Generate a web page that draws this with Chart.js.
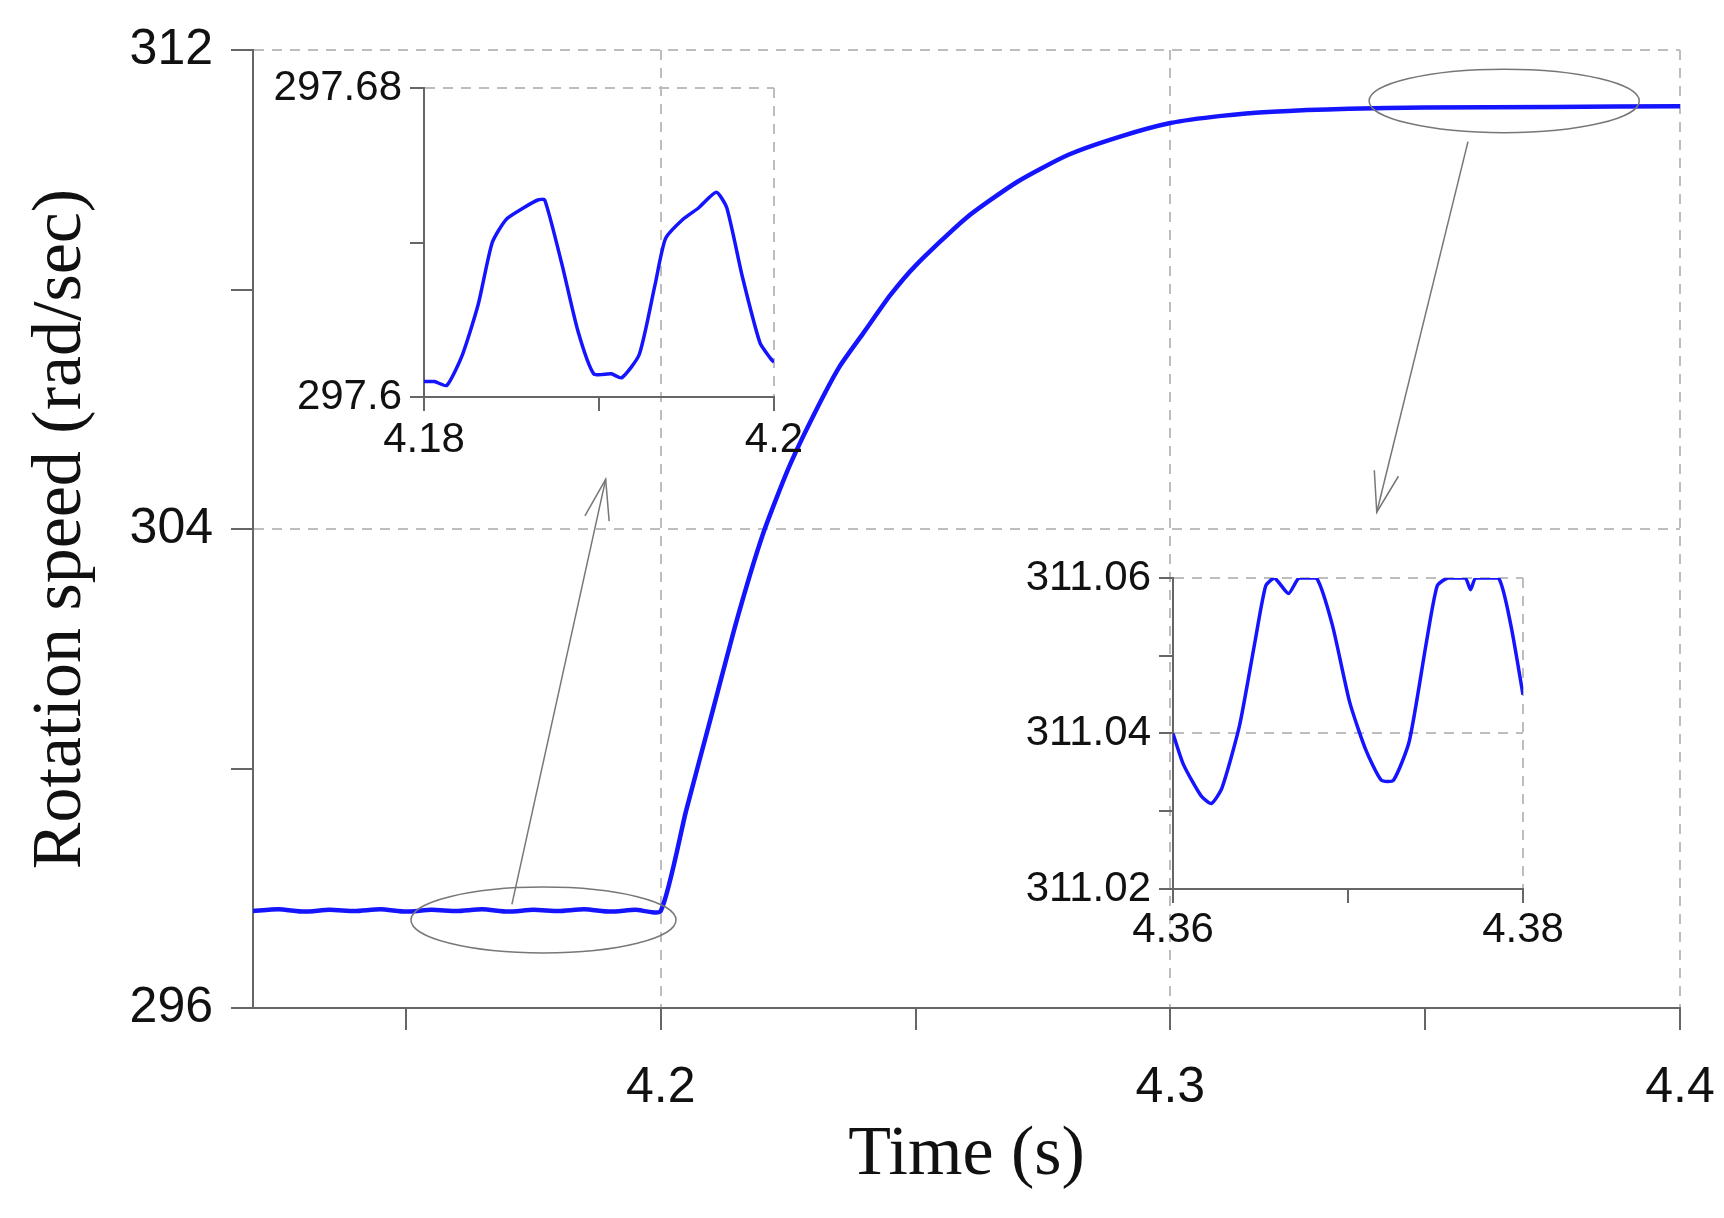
<!DOCTYPE html>
<html>
<head>
<meta charset="utf-8">
<script src="https://cdn.jsdelivr.net/npm/chart.js@4.4.1/dist/chart.umd.min.js"></script>
<style>
  body { margin: 0; background: #fff; }
  #wrap { position: relative; width: 1724px; height: 1218px; }
  canvas { position: absolute; }
</style>
</head>
<body>
<div id="wrap">
  <canvas id="main" style="left:0;top:0"></canvas>
  <canvas id="ins1" style="left:260px;top:70px"></canvas>
  <canvas id="ins2" style="left:1000px;top:555px"></canvas>
</div>
<script>
// main curve
var mainTime = [4.12, 4.125, 4.13, 4.135, 4.14, 4.145, 4.15, 4.155, 4.16, 4.165, 4.17, 4.175, 4.18, 4.185, 4.19, 4.195, 4.2,
  4.205, 4.21, 4.215, 4.22, 4.225, 4.23, 4.235, 4.24, 4.245, 4.25, 4.26, 4.27, 4.28, 4.29, 4.3, 4.31, 4.32, 4.335, 4.35, 4.375, 4.4];
var mainSpeed = [297.62, 297.65, 297.61, 297.64, 297.62, 297.65, 297.61, 297.64, 297.62, 297.65, 297.61, 297.64, 297.62, 297.65, 297.61, 297.64, 297.62,
  299.3, 300.9, 302.5, 303.9, 305.0, 305.9, 306.7, 307.3, 307.9, 308.4, 309.2, 309.8, 310.25, 310.55, 310.78, 310.9, 310.97, 311.02, 311.04, 311.05, 311.06];
var mainXTicks = [4.15, 4.2, 4.25, 4.3, 4.35, 4.4];
var mainXLabels = ['', '4.2', '', '4.3', '', '4.4'];
var mainYTicks = [296, 300, 304, 308, 312];
var mainYLabels = ['296', '', '304', '', '312'];

// inset 1 (left zoom)
var ins1Time = [4.18, 4.1806, 4.1813, 4.1822, 4.1831, 4.1839, 4.1847, 4.1857, 4.1865, 4.1869, 4.1879, 4.1888, 4.1897, 4.1907, 4.1913,
  4.1923, 4.1932, 4.1938, 4.1948, 4.1957, 4.1967, 4.1973, 4.1982, 4.1992, 4.1998, 4.2];
var ins1Speed = [297.604, 297.604, 297.603, 297.611, 297.624, 297.640, 297.646, 297.649, 297.651, 297.651, 297.634, 297.617, 297.606, 297.606, 297.605,
  297.611, 297.629, 297.641, 297.646, 297.649, 297.653, 297.649, 297.631, 297.614, 297.610, 297.609];
var ins1XTicks = [4.18, 4.19, 4.2];
var ins1XLabels = ['4.18', '', '4.2'];
var ins1YTicks = [297.6, 297.64, 297.68];
var ins1YLabels = ['297.6', '', '297.68'];

// inset 2 (right zoom)
var ins2Time = [4.36, 4.3606, 4.3616, 4.3622, 4.3628, 4.3638, 4.3647, 4.3653, 4.3658, 4.3666, 4.3672, 4.3682, 4.3691, 4.3701, 4.371,
  4.3719, 4.3726, 4.3735, 4.3745, 4.3751, 4.3757, 4.3767, 4.377, 4.3773, 4.3786, 4.3793, 4.38];
var ins2Speed = [311.04, 311.036, 311.032, 311.031, 311.033, 311.041, 311.052, 311.059, 311.06, 311.058, 311.06, 311.06, 311.054, 311.044, 311.038,
  311.034, 311.034, 311.039, 311.052, 311.059, 311.06, 311.06, 311.0585, 311.06, 311.06, 311.054, 311.045];
var ins2XTicks = [4.36, 4.37, 4.38];
var ins2XLabels = ['4.36', '', '4.38'];
var ins2YTicks = [311.02, 311.03, 311.04, 311.05, 311.06];
var ins2YLabels = ['311.02', '', '311.04', '', '311.06'];

var AXIS = '#666';
var GRID = '#bdbdbd';
var BLUE = '#1414ff';

function pts(xs, ys) {
  return xs.map(function (x, i) { return { x: x, y: ys[i] }; });
}

function axis(cfg) {
  var isX = cfg.pos === 'bottom';
  return {
    type: 'linear',
    position: cfg.pos,
    min: cfg.min,
    max: cfg.max,
    afterBuildTicks: function (s) { s.ticks = cfg.ticks.map(function (v) { return { value: v }; }); },
    afterFit: function (s) {
      // fixed axis box, no overflow padding from labels
      if (isX) { s.height = cfg.size; s.paddingLeft = 0; s.paddingRight = 0; }
      else { s.width = cfg.size; s.paddingTop = 0; s.paddingBottom = 0; }
    },
    ticks: {
      autoSkip: false,
      maxRotation: 0,
      color: '#111',
      padding: cfg.pad,
      font: { family: 'Liberation Sans', size: cfg.font },
      callback: function (v, i) { return cfg.labels[i]; }
    },
    grid: {
      drawTicks: true,
      tickLength: cfg.tickLen,
      tickColor: AXIS,
      tickWidth: 2,
      lineWidth: 2,
      color: function (c) {
        var v = c.tick && c.tick.value;
        return (cfg.grid.indexOf(v) >= 0) ? GRID : 'rgba(0,0,0,0)';
      }
    },
    border: { display: true, color: AXIS, width: 2, dash: [10, 8] },
    title: cfg.title ? {
      display: true, text: cfg.title, color: '#111',
      font: { family: 'Liberation Serif', size: 70 },
      padding: cfg.titlePad
    } : { display: false }
  };
}

// ellipses and arrows pointing at the zooms
var marks = {
  id: 'marks',
  afterDatasetsDraw: function (chart) {
    var c = chart.ctx, xs = chart.scales.x, ys = chart.scales.y;
    function P(t, v) { return [xs.getPixelForValue(t), ys.getPixelForValue(v)]; }
    function ellipse(t0, t1, v0, v1) {
      var a = P(t0, v0), b = P(t1, v1);
      c.beginPath();
      c.ellipse((a[0] + b[0]) / 2, (a[1] + b[1]) / 2, Math.abs(b[0] - a[0]) / 2, Math.abs(b[1] - a[1]) / 2, 0, 0, Math.PI * 2);
      c.stroke();
    }
    function arrow(t0, v0, t1, v1) {
      var a = P(t0, v0), b = P(t1, v1);
      c.beginPath(); c.moveTo(a[0], a[1]); c.lineTo(b[0], b[1]); c.stroke();
      var ang = Math.atan2(b[1] - a[1], b[0] - a[0]), L = 42;
      c.beginPath();
      c.moveTo(b[0] - L * Math.cos(ang - 0.3), b[1] - L * Math.sin(ang - 0.3));
      c.lineTo(b[0], b[1]);
      c.lineTo(b[0] - L * Math.cos(ang + 0.3), b[1] - L * Math.sin(ang + 0.3));
      c.stroke();
    }
    c.save();
    c.strokeStyle = '#777';
    c.lineWidth = 1.5;
    ellipse(4.151, 4.203, 296.92, 298.02);
    ellipse(4.339, 4.392, 310.62, 311.68);
    arrow(4.1708, 297.73, 4.1892, 304.83);
    arrow(4.3584, 310.47, 4.3405, 304.28);
    c.restore();
  }
};

function lineChart(id, w, h, xs, ys, pad, xAx, yAx, lw, plugins) {
  var el = document.getElementById(id);
  el.width = w;
  el.height = h;
  el.style.width = w + 'px';
  el.style.height = h + 'px';
  return new Chart(el, {
    type: 'line',
    data: {
      datasets: [{
        data: pts(xs, ys),
        borderColor: BLUE,
        borderWidth: lw,
        pointRadius: 0,
        tension: 0.2,
        fill: false
      }]
    },
    options: {
      responsive: false,
      animation: false,
      layout: { padding: pad },
      plugins: { legend: { display: false }, tooltip: { enabled: false } },
      scales: { x: axis(xAx), y: axis(yAx) }
    },
    plugins: plugins || []
  });
}

lineChart('main', 1724, 1218, mainTime, mainSpeed,
  { left: 0, top: 50, right: 44, bottom: 0 },
  { pos: 'bottom', min: 4.12, max: 4.4, ticks: mainXTicks, labels: mainXLabels, grid: [4.2, 4.3, 4.4], size: 210, font: 50, pad: 28, tickLen: 22, title: 'Time (s)', titlePad: { top: 0, bottom: 20 } },
  { pos: 'left', min: 296, max: 312, ticks: mainYTicks, labels: mainYLabels, grid: [304, 312], size: 253, font: 50, pad: 18, tickLen: 22, title: 'Rotation speed (rad/sec)', titlePad: { top: 20, bottom: 20 } },
  4.5, [marks]);

lineChart('ins1', 560, 400, ins1Time, ins1Speed,
  { left: 0, top: 18, right: 46, bottom: 0 },
  { pos: 'bottom', min: 4.18, max: 4.2, ticks: ins1XTicks, labels: ins1XLabels, grid: [4.2], size: 73, font: 42, pad: 4, tickLen: 14 },
  { pos: 'left', min: 297.6, max: 297.68, ticks: ins1YTicks, labels: ins1YLabels, grid: [297.68], size: 164, font: 42, pad: 8, tickLen: 14 },
  3.5);

lineChart('ins2', 620, 390, ins2Time, ins2Speed,
  { left: 0, top: 23, right: 97, bottom: 0 },
  { pos: 'bottom', min: 4.36, max: 4.38, ticks: ins2XTicks, labels: ins2XLabels, grid: [4.38], size: 56, font: 42, pad: 2, tickLen: 14 },
  { pos: 'left', min: 311.02, max: 311.06, ticks: ins2YTicks, labels: ins2YLabels, grid: [311.04, 311.06], size: 173, font: 42, pad: 8, tickLen: 14 },
  3.5);
</script>
</body>
</html>
